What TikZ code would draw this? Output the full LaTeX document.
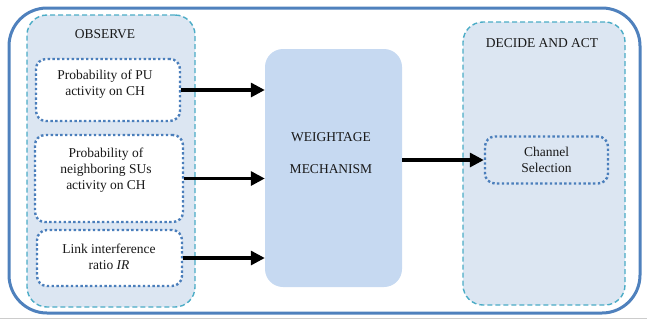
\documentclass[tikz,border=0pt]{standalone}
\usepackage{fontspec}
\setmainfont{Liberation Serif}
\usepackage{tikz}
\usetikzlibrary{calc,positioning,arrows.meta,shapes}

\definecolor{frameblue}{HTML}{4F81BD}
\definecolor{dashcyan}{HTML}{4BACC6}
\definecolor{panelfill}{HTML}{DCE6F2}
\definecolor{mechfill}{HTML}{C6D9F1}
\definecolor{dotblue}{HTML}{4A7EBB}

\begin{document}
\begin{tikzpicture}[x=1pt, y=-1pt,
  every node/.style={font=\fontsize{13.5}{16}\selectfont, text=black!90, align=center},
  panel/.style={draw=dashcyan, fill=panelfill, line width=1.4pt, dash pattern=on 5pt off 3pt, rounded corners=20pt},
  dotbox/.style={draw=dotblue, line width=2.4pt, dash pattern=on 2.4pt off 2.4pt, rounded corners=10pt, inner sep=0pt},
  feed/.style={line width=3.2pt, -{Triangle[length=14pt,width=14pt]}}]
\useasboundingbox (0,0) rectangle (647,322);
\draw[gray!40, line width=1pt] (0,318) -- (647,318);
\draw[frameblue, line width=3pt, rounded corners=38pt] (9,8) rectangle (640,313);

\node[panel, minimum width=168pt, minimum height=292pt] (obs) at (111,161) {};
\node (obstitle) at (105,34) {OBSERVE};
\node[panel, minimum width=162pt, minimum height=283pt] (dec) at (544,163.5) {};
\node (dectitle) at (542,43) {DECIDE AND ACT};

\node[dotbox, fill=white, minimum width=144pt, minimum height=62pt] (pu) at (108,90) {};
\node (putext) at (105,84) {Probability of PU\\activity on CH};
\node[dotbox, fill=white, minimum width=148pt, minimum height=87pt] (su) at (109,178.5) {};
\node (sutext) at (106,170) {Probability of\\neighboring SUs\\activity on CH};
\node[dotbox, fill=white, minimum width=145pt, minimum height=56pt] (ir) at (109.5,258) {};
\node (irtext) at (109,257) {Link interference\\ratio \textit{IR}};

\node[fill=mechfill, rounded corners=18pt, minimum width=137pt, minimum height=238pt] (wm) at (333.5,168) {};
\node (wmtext) at (331,153) {WEIGHTAGE\\[16pt]MECHANISM};

\node[dotbox, minimum width=123pt, minimum height=47pt] (cs) at (546.5,160) {Channel\\Selection};

\draw[feed] (pu.east) -- (pu.east -| wm.west);
\draw[feed] (su.east) -- (su.east -| wm.west);
\draw[feed] (ir.east) -- (ir.east -| wm.west);
\draw[feed] (cs.west -| wm.east) -- (cs.west);
\end{tikzpicture}
\end{document}
